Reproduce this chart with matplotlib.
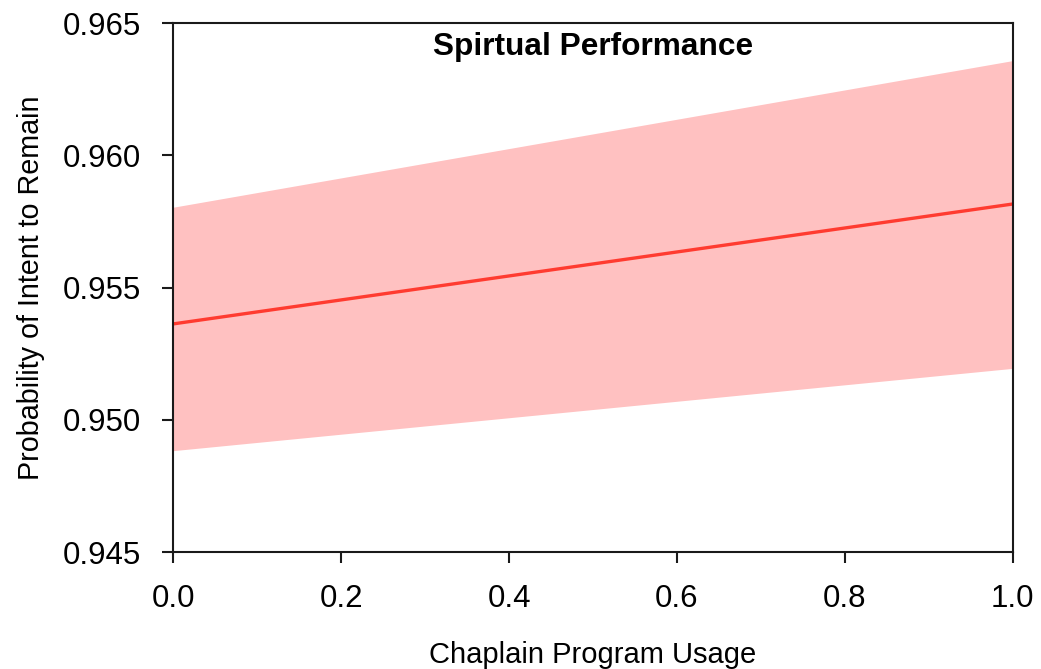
import matplotlib
matplotlib.use('Agg')
import matplotlib.pyplot as plt

# predicted probability
usage = [0.0, 1.0]
fit = [0.95363, 0.95816]
lower = [0.94884, 0.95195]
upper = [0.95804, 0.96358]

x_ticks = [0.0, 0.2, 0.4, 0.6, 0.8, 1.0]
y_ticks = [0.945, 0.950, 0.955, 0.960, 0.965]

plt.rcParams['font.family'] = ['Liberation Sans', 'DejaVu Sans']

fig = plt.figure(figsize=(10.41, 6.69), dpi=100)
ax = fig.add_axes([0.1665, 0.1745, 0.8063, 0.7911])

ax.fill_between(usage, lower, upper, color='#FFC1C1', linewidth=0)
ax.plot(usage, fit, color='#FF3B30', linewidth=2.4)

ax.set_xlim(0, 1)
ax.set_ylim(0.945, 0.965)
ax.set_xticks(x_ticks)
ax.set_xticklabels(['%.1f' % v for v in x_ticks])
ax.set_yticks(y_ticks)
ax.set_yticklabels(['%.3f' % v for v in y_ticks])

for s in ax.spines.values():
    s.set_linewidth(1.5)
    s.set_color('#1a1a1a')
ax.tick_params(direction='out', length=8, width=1.5, color='#1a1a1a',
               labelsize=22.5, pad=15)

ax.set_xlabel('Chaplain Program Usage', fontsize=21, labelpad=19)
ax.set_ylabel('Probability of Intent to Remain', fontsize=20.7, labelpad=13)
ax.text(0.5, 0.955, 'Spirtual Performance', transform=ax.transAxes,
        ha='center', va='center', fontsize=22.8, fontweight='bold')

fig.savefig('out.png', dpi=100)
